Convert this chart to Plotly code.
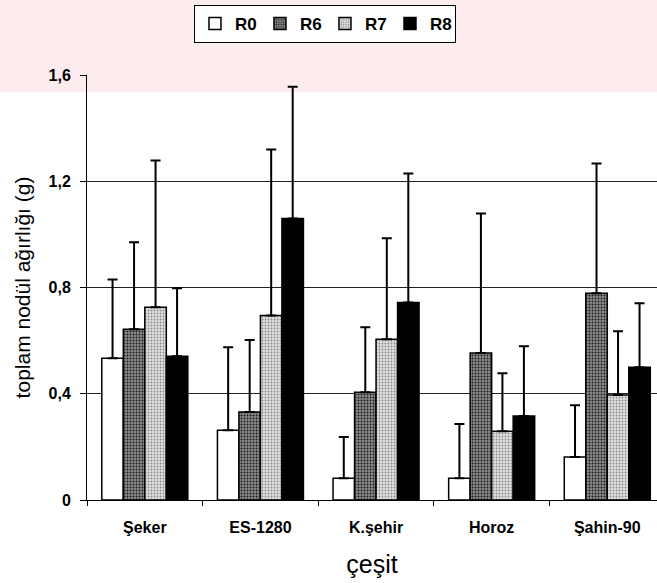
import plotly.graph_objects as go

categories = ["Şeker", "ES-1280", "K.şehir", "Horoz", "Şahin-90"]
series_names = ["R0", "R6", "R7", "R8"]

r0 = [0.534, 0.263, 0.082, 0.082, 0.162]
r6 = [0.643, 0.331, 0.406, 0.553, 0.778]
r7 = [0.726, 0.695, 0.605, 0.259, 0.395]
r8 = [0.541, 1.060, 0.744, 0.316, 0.500]

r0_top = [0.830, 0.575, 0.237, 0.286, 0.357]
r6_top = [0.970, 0.602, 0.650, 1.079, 1.267]
r7_top = [1.278, 1.320, 0.985, 0.477, 0.635]
r8_top = [0.797, 1.556, 1.229, 0.579, 0.741]

y_tickvals = [0, 0.4, 0.8, 1.2, 1.6]
y_ticktext = ["0", "0,4", "0,8", "1,2", "1,6"]

values = [r0, r6, r7, r8]
tops = [r0_top, r6_top, r7_top, r8_top]

FONT = "Liberation Sans, Arial, sans-serif"

styles = [
    dict(color="white", pattern=None),
    dict(color="#6a6a6a", pattern=dict(shape=".", fgcolor="#1a1a1a", bgcolor="#8c8c8c", size=3, solidity=0.35, fillmode="replace")),
    dict(color="#c4c4c4", pattern=dict(shape=".", fgcolor="#8a8a8a", bgcolor="#e0e0e0", size=3, solidity=0.3, fillmode="replace")),
    dict(color="black", pattern=None),
]

fig = go.Figure()
for name, vals, tp, st in zip(series_names, values, tops, styles):
    err = [t - v for t, v in zip(tp, vals)]
    marker = dict(color=st["color"], line=dict(color="black", width=1.5))
    if st["pattern"] is not None:
        marker["pattern"] = st["pattern"]
    fig.add_trace(go.Bar(
        name=name, x=categories, y=vals, marker=marker,
        error_y=dict(type="data", array=err, arrayminus=[0] * len(err),
                     symmetric=False, color="black", thickness=2, width=5),
    ))

fig.update_layout(
    width=657, height=583,
    margin=dict(l=87, r=0, t=75, b=83),
    paper_bgcolor="white", plot_bgcolor="white",
    barmode="group", bargap=0.256, bargroupgap=0,
    font=dict(family=FONT, color="black"),
    showlegend=True,
    legend=dict(
        orientation="h", x=0.4175, xanchor="center", y=1.165, yanchor="top",
        bordercolor="black", borderwidth=1, bgcolor="white",
        font=dict(size=17, family=FONT, weight="bold"),
        itemwidth=30, entrywidth=20, entrywidthmode="pixels", tracegroupgap=0,
    ),
    xaxis=dict(
        range=[-0.5, 4.43], showgrid=False, showline=True, linecolor="black", linewidth=1,
        ticks="outside", tickson="boundaries", ticklen=5, tickcolor="black",
        tickfont=dict(size=16, family=FONT, weight="bold"), ticklabelstandoff=13,
        title=dict(text="çeşit", font=dict(size=25, family=FONT), standoff=20),
    ),
    yaxis=dict(
        range=[0, 1.6], tickvals=y_tickvals, ticktext=y_ticktext,
        showgrid=True, gridcolor="#222222", gridwidth=1,
        showline=True, linecolor="black", linewidth=1,
        ticks="outside", ticklen=6, tickcolor="black",
        tickfont=dict(size=16, family=FONT, weight="bold"), ticklabelstandoff=6,
        title=dict(text="toplam nodül ağırlığı (g)", font=dict(size=21, family=FONT), standoff=12),
        zeroline=False,
    ),
    shapes=[dict(type="rect", xref="paper", yref="paper", x0=-0.2, x1=1.0,
                 y0=1 + (75 - 92) / 425, y1=1 + 75 / 425, fillcolor="#fdecee",
                 line=dict(width=0), layer="below")],
)

fig.write_html("out.html")
